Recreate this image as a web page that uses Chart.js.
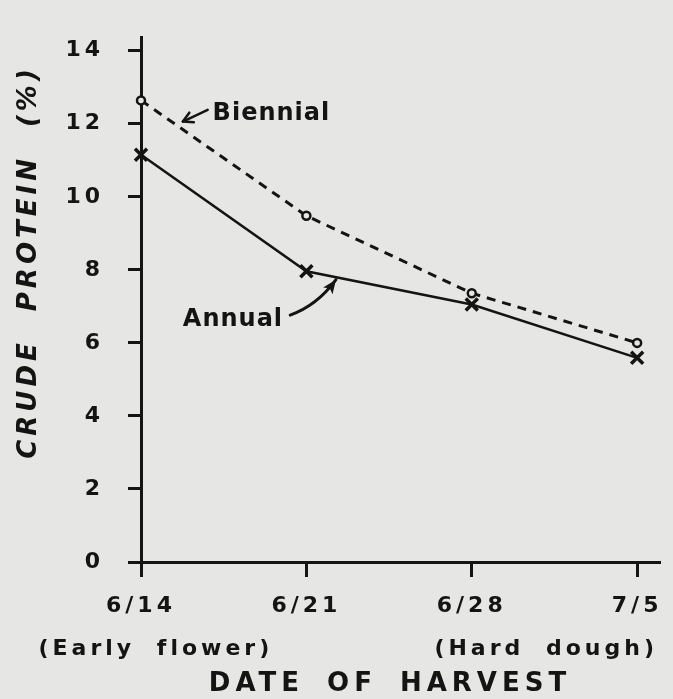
<!DOCTYPE html>
<html>
<head>
<meta charset="utf-8">
<script src="https://cdn.jsdelivr.net/npm/chart.js@4.4.1/dist/chart.umd.min.js"></script>
<style>
  html, body { margin: 0; padding: 0; background: #e6e6e4; }
  #wrap { width: 673px; height: 699px; }
</style>
</head>
<body>
<div id="wrap"><canvas id="proteinChart" width="673" height="699"></canvas></div>
<script>
// harvest dates (x categories)
const categories = ['6/14', '6/21', '6/28', '7/5'];
// crude protein (%)
const biennial = [12.64, 9.48, 7.36, 6.0];
const annual = [11.15, 7.96, 7.05, 5.59];
const yTicks = [0, 2, 4, 6, 8, 10, 12, 14];

// stage notes under the dates, positioned in data units
const stageNotes = [
    { text: '(Early flower)', x: 0.09 },
    { text: '(Hard dough)', x: 2.45 }
];

const ink = '#141414';
const paper = '#e6e6e4';
const fontFamily = '"DejaVu Sans"';

function toPoints(values) {
    return values.map((v, i) => ({ x: i, y: v }));
}

// two barbs, like a hand drawn arrow
function drawBarbs(ctx, x, y, angle, size) {
    ctx.beginPath();
    ctx.moveTo(x - size * Math.cos(angle - 0.5), y - size * Math.sin(angle - 0.5));
    ctx.lineTo(x, y);
    ctx.lineTo(x - size * Math.cos(angle + 0.5), y - size * Math.sin(angle + 0.5));
    ctx.stroke();
}

function drawArrowHead(ctx, x, y, angle, size) {
    ctx.beginPath();
    ctx.moveTo(x, y);
    ctx.lineTo(x - size * Math.cos(angle - 0.4), y - size * Math.sin(angle - 0.4));
    ctx.lineTo(x - size * 0.7 * Math.cos(angle), y - size * 0.7 * Math.sin(angle));
    ctx.lineTo(x - size * Math.cos(angle + 0.4), y - size * Math.sin(angle + 0.4));
    ctx.closePath();
    ctx.fill();
}

// paper background + letter spacing for the tick labels
const paperPlugin = {
    id: 'paper',
    beforeDraw(chart) {
        const ctx = chart.ctx;
        ctx.save();
        ctx.fillStyle = paper;
        ctx.fillRect(0, 0, chart.width, chart.height);
        ctx.restore();
        ctx.letterSpacing = '4px';
    }
};

// axis titles, stage notes and the series labels with arrows
const labelsPlugin = {
    id: 'labels',
    afterDraw(chart) {
        const ctx = chart.ctx;
        const xs = chart.scales.x;
        const ys = chart.scales.y;
        ctx.save();
        ctx.fillStyle = ink;
        ctx.strokeStyle = ink;
        ctx.lineCap = 'round';
        ctx.lineJoin = 'round';

        // y title
        ctx.save();
        ctx.translate(29, 262);
        ctx.rotate(-Math.PI / 2);
        ctx.font = 'oblique bold 26px ' + fontFamily;
        ctx.letterSpacing = '4px';
        ctx.wordSpacing = '15px';
        ctx.textAlign = 'center';
        ctx.textBaseline = 'middle';
        ctx.fillText('CRUDE PROTEIN (%)', 0, 0);
        ctx.restore();

        // x title
        ctx.font = 'bold 26px ' + fontFamily;
        ctx.letterSpacing = '5px';
        ctx.wordSpacing = '9px';
        ctx.textAlign = 'center';
        ctx.textBaseline = 'middle';
        ctx.fillText('DATE OF HARVEST', 390, 684);

        // stage notes
        ctx.font = 'bold 22px ' + fontFamily;
        ctx.letterSpacing = '4px';
        ctx.wordSpacing = '10px';
        stageNotes.forEach(n => {
            ctx.fillText(n.text, xs.getPixelForValue(n.x), 649);
        });

        // series labels
        ctx.font = 'bold 24px ' + fontFamily;
        ctx.letterSpacing = '1px';
        ctx.wordSpacing = '0px';
        ctx.textAlign = 'left';
        ctx.fillText('Biennial', xs.getPixelForValue(0.433), ys.getPixelForValue(12.27));
        ctx.fillText('Annual', xs.getPixelForValue(0.253), ys.getPixelForValue(6.63));

        // Biennial arrow
        ctx.lineWidth = 2.5;
        const bx1 = xs.getPixelForValue(0.403), by1 = ys.getPixelForValue(12.38);
        const bx2 = xs.getPixelForValue(0.253), by2 = ys.getPixelForValue(12.06);
        ctx.beginPath();
        ctx.moveTo(bx1, by1);
        ctx.lineTo(bx2, by2);
        ctx.stroke();
        drawBarbs(ctx, bx2, by2, Math.atan2(by2 - by1, bx2 - bx1), 11);

        // Annual arrow (curved)
        ctx.lineWidth = 3;
        const ax1 = xs.getPixelForValue(0.902), ay1 = ys.getPixelForValue(6.76);
        const acx = xs.getPixelForValue(1.064), acy = ys.getPixelForValue(7.02);
        const ax2 = xs.getPixelForValue(1.179), ay2 = ys.getPixelForValue(7.73);
        ctx.beginPath();
        ctx.moveTo(ax1, ay1);
        ctx.quadraticCurveTo(acx, acy, ax2, ay2);
        ctx.stroke();
        drawArrowHead(ctx, ax2, ay2, Math.atan2(ay2 - acy, ax2 - acx), 15);

        ctx.restore();
    }
};

const config = {
    type: 'line',
    data: {
        datasets: [
            {
                label: 'Biennial',
                data: toPoints(biennial),
                borderColor: ink,
                borderWidth: 3,
                borderDash: [9, 7],
                pointStyle: 'circle',
                pointRadius: 4,
                pointBorderWidth: 2.5,
                pointBackgroundColor: paper,
                pointBorderColor: ink,
                tension: 0,
                clip: false
            },
            {
                label: 'Annual',
                data: toPoints(annual),
                borderColor: ink,
                borderWidth: 2.5,
                pointStyle: 'crossRot',
                pointRadius: 8.5,
                pointBorderWidth: 3.5,
                pointBorderColor: ink,
                tension: 0,
                clip: false
            }
        ]
    },
    options: {
        responsive: false,
        animation: false,
        layout: {
            padding: { top: 12, right: 10, left: 0, bottom: 0 }
        },
        plugins: {
            legend: { display: false },
            tooltip: { enabled: false }
        },
        scales: {
            x: {
                type: 'linear',
                min: 0,
                max: 3.14,
                afterBuildTicks(scale) {
                    scale.ticks = categories.map((c, i) => ({ value: i }));
                },
                afterFit(scale) {
                    scale.height = 137;
                },
                border: { color: ink, width: 3 },
                grid: {
                    drawOnChartArea: false,
                    drawTicks: true,
                    tickLength: 15,
                    tickColor: ink,
                    tickWidth: 3
                },
                ticks: {
                    color: ink,
                    padding: 16,
                    maxRotation: 0,
                    font: { family: fontFamily, size: 22, weight: 'bold' },
                    callback: value => categories[value] || ''
                }
            },
            y: {
                min: 0,
                max: 14.37,
                afterBuildTicks(scale) {
                    scale.ticks = yTicks.map(v => ({ value: v }));
                },
                afterFit(scale) {
                    scale.width = 141;
                },
                border: { color: ink, width: 3 },
                grid: {
                    drawOnChartArea: false,
                    drawTicks: true,
                    tickLength: 13,
                    tickColor: ink,
                    tickWidth: 3
                },
                ticks: {
                    color: ink,
                    padding: 24,
                    font: { family: fontFamily, size: 22, weight: 'bold' }
                }
            }
        }
    },
    plugins: [paperPlugin, labelsPlugin]
};

new Chart(document.getElementById('proteinChart').getContext('2d'), config);
</script>
</body>
</html>
